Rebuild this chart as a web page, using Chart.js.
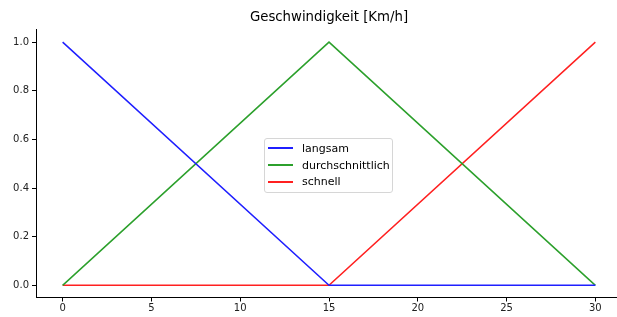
<!DOCTYPE html>
<html>
<head>
<meta charset="utf-8">
<script src="https://cdn.jsdelivr.net/npm/chart.js@4"></script>
<style>
  html, body { margin: 0; padding: 0; background: #fff; overflow: hidden; width: 617px; height: 317px; }
  #wrap { position: relative; width: 625px; height: 317px; }
  #legend {
    position: absolute; left: 264px; top: 138px; width: 129px;
    box-sizing: border-box; padding: 1px 0 2px 0;
    background: rgba(255,255,255,0.8); border: 1px solid #d6d6d6; border-radius: 3px;
    font: 11px "DejaVu Sans", sans-serif; color: #000;
  }
  .row { display: flex; align-items: center; height: 16.7px; }
  .swatch { width: 25px; height: 2px; margin: 0 9px 0 3px; }
</style>
</head>
<body>
<div id="wrap">
  <canvas id="chart" width="625" height="317"></canvas>
  <div id="legend"></div>
</div>
<script>
const xValues = [0, 15, 30];
const seriesNames = ['langsam', 'durchschnittlich', 'schnell'];
const langsam = [1, 0, 0];
const durchschnittlich = [0, 1, 0];
const schnell = [0, 0, 1];
const seriesColors = ['#1f1fff', '#2ca02c', '#ff2020'];
const xTicks = [0, 5, 10, 15, 20, 25, 30];
const yTicks = [0, 0.2, 0.4, 0.6, 0.8, 1.0];
const titleText = 'Geschwindigkeit [Km/h]';

const seriesValues = [langsam, durchschnittlich, schnell];
const datasets = seriesValues.map((vals, i) => ({
  label: seriesNames[i],
  data: vals.map((v, j) => ({ x: xValues[j], y: v })),
  borderColor: seriesColors[i],
  backgroundColor: seriesColors[i],
  borderWidth: 1.5,
  pointRadius: 0,
  tension: 0,
  fill: false
}));

const tickFont = { family: 'DejaVu Sans', size: 10 };

new Chart(document.getElementById('chart').getContext('2d'), {
  type: 'line',
  data: { datasets },
  options: {
    responsive: false,
    animation: false,
    devicePixelRatio: 1,
    layout: { padding: { left: 0, right: 3, top: 0, bottom: 0 } },
    plugins: {
      legend: { display: false },
      tooltip: { enabled: false },
      title: {
        display: true,
        text: titleText,
        fullSize: false,
        color: '#000',
        font: { family: 'DejaVu Sans', size: 13.3, weight: 'normal' },
        padding: { top: 10, bottom: 4 }
      }
    },
    scales: {
      x: {
        type: 'linear',
        min: -1.5,
        max: 31.5,
        afterBuildTicks: s => { s.ticks = xTicks.map(v => ({ value: v })); },
        afterFit: s => { s.height = 19.5; },
        ticks: { color: '#222', font: tickFont, padding: 1, maxRotation: 0,
                 callback: v => String(v) },
        grid: { drawOnChartArea: false, drawTicks: true, tickLength: 4, color: '#000' },
        border: { display: true, color: '#000', width: 1 }
      },
      y: {
        type: 'linear',
        min: -0.05,
        max: 1.05,
        afterBuildTicks: s => { s.ticks = yTicks.map(v => ({ value: v })); },
        afterFit: s => { s.width = 36; },
        ticks: { color: '#222', font: tickFont, padding: 3,
                 callback: v => Number(v).toFixed(1) },
        grid: { drawOnChartArea: false, drawTicks: true, tickLength: 4, color: '#000' },
        border: { display: true, color: '#000', width: 1 }
      }
    }
  }
});

document.getElementById('legend').innerHTML = seriesNames.map((n, i) =>
  `<div class="row"><span class="swatch" style="background:${seriesColors[i]}"></span><span>${n}</span></div>`
).join('');
</script>
</body>
</html>
